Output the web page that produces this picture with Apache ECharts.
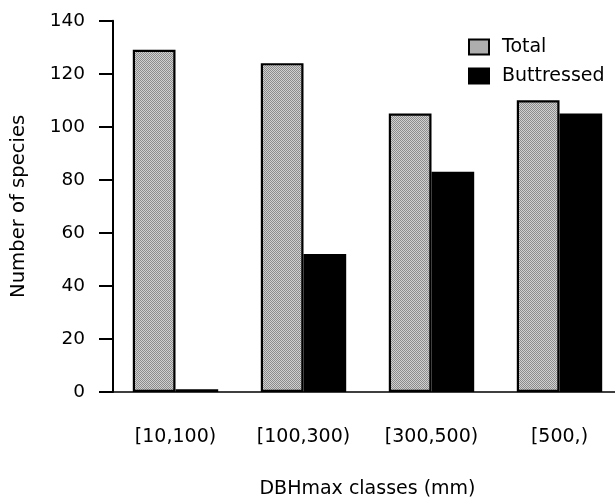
<!DOCTYPE html>
<html>
<head>
<meta charset="utf-8">
<script src="https://cdn.jsdelivr.net/npm/echarts@6/dist/echarts.min.js"></script>
<style>
html,body{margin:0;padding:0;background:#fff;}
#chart{width:615px;height:499px;}
</style>
</head>
<body>
<div id="chart"></div>
<script>
const categories = ['[10,100)', '[100,300)', '[300,500)', '[500,)'];
const totalValues = [129, 124, 105, 110];
const buttressedValues = [1, 52, 83, 105];
const yTicks = [0, 20, 40, 60, 80, 100, 120, 140];

const FONT = 'DejaVu Sans';

// fine checker texture for the "Total" bars
const pc = document.createElement('canvas');
pc.width = 2; pc.height = 2;
const pctx = pc.getContext('2d');
pctx.fillStyle = '#d0d0d0'; pctx.fillRect(0, 0, 2, 2);
pctx.fillStyle = '#8c8c8c'; pctx.fillRect(0, 0, 1, 1); pctx.fillRect(1, 1, 1, 1);
const pattern = { image: pc, repeat: 'repeat' };

const chart = echarts.init(document.getElementById('chart'), null, { renderer: 'canvas' });
chart.setOption({
  animation: false,
  backgroundColor: '#ffffff',
  grid: { left: 111.5, top: 20.7, width: 512, bottom: 107, containLabel: false, outerBoundsMode: 'none' },
  legend: {
    orient: 'vertical',
    left: 463,
    top: 32.5,
    itemWidth: 20,
    itemHeight: 15,
    itemGap: 10,
    icon: 'rect',
    textStyle: { fontFamily: FONT, fontSize: 19, color: '#000', padding: [0, 0, 0, 8] },
    data: ['Total', 'Buttressed']
  },
  xAxis: {
    type: 'category',
    data: categories,
    axisLine: { show: true, lineStyle: { color: '#000', width: 1.5 } },
    axisTick: { show: false },
    axisLabel: { fontFamily: FONT, fontSize: 19, color: '#000', margin: 36 },
    name: 'DBHmax classes (mm)',
    nameLocation: 'middle',
    nameGap: 88,
    nameTextStyle: { fontFamily: FONT, fontSize: 19, color: '#000' }
  },
  yAxis: {
    type: 'value',
    min: yTicks[0],
    max: yTicks[yTicks.length - 1],
    interval: 20,
    offset: -1.5,
    axisLine: { show: true, lineStyle: { color: '#000', width: 2 } },
    axisTick: { show: true, inside: false, length: 14, lineStyle: { color: '#000', width: 2 } },
    axisLabel: { fontFamily: FONT, fontSize: 18.5, color: '#000', margin: 28 },
    splitLine: { show: false },
    name: 'Number of species',
    nameLocation: 'middle',
    nameRotate: 90,
    nameGap: 84,
    nameTextStyle: { fontFamily: FONT, fontSize: 19.6, color: '#000' }
  },
  series: [
    {
      name: 'Total',
      type: 'bar',
      data: totalValues,
      barGap: '0%',
      barWidth: 42.7,
      itemStyle: { color: pattern, borderColor: '#000', borderWidth: 2.2 }
    },
    {
      name: 'Buttressed',
      type: 'bar',
      data: buttressedValues,
      barGap: '0%',
      barWidth: 42.7,
      itemStyle: { color: '#000', borderColor: '#000', borderWidth: 2.2 }
    }
  ]
});
</script>
</body>
</html>
